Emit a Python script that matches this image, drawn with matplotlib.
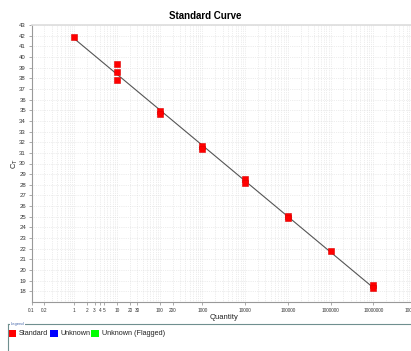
import numpy as np
import matplotlib.pyplot as plt
from matplotlib.patches import Rectangle
from matplotlib.lines import Line2D

plt.rcParams["font.family"] = ["Liberation Sans", "DejaVu Sans"]

# Data (standards)
quantity = [1, 10, 10, 10, 100, 100, 1000, 1000, 10000, 10000,
            100000, 100000, 1000000, 10000000, 10000000]
ct = [41.9, 39.3, 38.6, 37.8, 34.9, 34.6, 31.6, 31.4, 28.5, 28.2,
      25.1, 24.9, 21.8, 18.6, 18.3]

xticks = [0.1, 0.2, 1, 2, 3, 4, 5, 10, 20, 30, 100, 200, 1000, 10000,
          100000, 1000000, 10000000, 100000000]
xticklabels = ["0.1", "0.2", "1", "2", "3", "4", "5", "10", "20", "30", "100",
               "200", "1000", "10000", "100000", "1000000", "10000000",
               "100000000"]
yticks = list(range(18, 44))

legend_labels = ["Standard", "Unknown", "Unknown (Flagged)"]
legend_colors = ["#ff0000", "#0000ff", "#00ff00"]

fig = plt.figure(figsize=(4.11, 3.51), dpi=100)
ax = fig.add_axes([31.5 / 411, 49 / 351, 384.5 / 411, 277 / 351])

# Regression line through standards
slope, icpt = np.polyfit(np.log10(quantity), ct, 1)
xs = np.array([min(quantity), max(quantity)])
ax.plot(xs, slope * np.log10(xs) + icpt, color="#555555", lw=0.8, zorder=2)

ax.plot(quantity, ct, "s", color="#ff0000", mec="#dd0000", mew=0.4, ms=4.8,
        zorder=3, clip_on=False)

ax.set_xscale("log")
ax.set_xlim(0.1, 1e8)
ax.set_ylim(17, 43)
ax.set_xticks(xticks)
ax.set_xticklabels(xticklabels)
ax.set_yticks(yticks)
ax.tick_params(axis="x", labelsize=3.4, length=2, width=0.5, color="#888888",
               labelcolor="#333333", pad=2)
ax.tick_params(axis="y", labelsize=4.3, length=2, width=0.5, color="#888888",
               labelcolor="#333333", pad=2)
ax.tick_params(which="minor", length=0)

ax.grid(True, which="both", linestyle=":", linewidth=0.5, color="#dcdcdc")
ax.set_axisbelow(True)
for s in ["left", "bottom"]:
    ax.spines[s].set_color("#999999")
    ax.spines[s].set_linewidth(0.8)
ax.spines["top"].set_color("#dddddd")
ax.spines["top"].set_linewidth(1.2)
ax.spines["right"].set_visible(False)

ax.set_xlabel("Quantity", fontsize=5.5, color="#222222", labelpad=1)
ax.set_ylabel("C$_{\\rm T}$", fontsize=5.5, color="#222222")
ax.yaxis.set_label_coords(-0.031, 0.5)
fig.text(0.5, 1 - 16 / 351, "Standard Curve", ha="center", va="center",
         fontsize=7, fontweight="bold")

# Legend panel at the bottom
fig.add_artist(Line2D([7.5 / 411, 1], [1 - 324 / 351, 1 - 324 / 351],
                      color="#6f8f8f", lw=0.8))
fig.add_artist(Line2D([7.5 / 411, 7.5 / 411], [1 - 324 / 351, 0],
                      color="#6f8f8f", lw=0.8))
fig.text(11 / 411, 1 - 324 / 351, "Legend", fontsize=3, color="#4466aa",
         va="center", ha="left", zorder=5,
         bbox=dict(facecolor="white", edgecolor="none", pad=0.6))
lx = [8.5, 50, 91]
for x0, lab, col in zip(lx, legend_labels, legend_colors):
    fig.add_artist(Rectangle((x0 / 411, 1 - 337 / 351), 7.5 / 411, 7 / 351,
                             facecolor=col, edgecolor="none",
                             transform=fig.transFigure))
    fig.text((x0 + 10.5) / 411, 1 - 333.5 / 351, lab, fontsize=5.2,
             color="#222222", va="center", ha="left")

fig.savefig("out.png", dpi=100)
